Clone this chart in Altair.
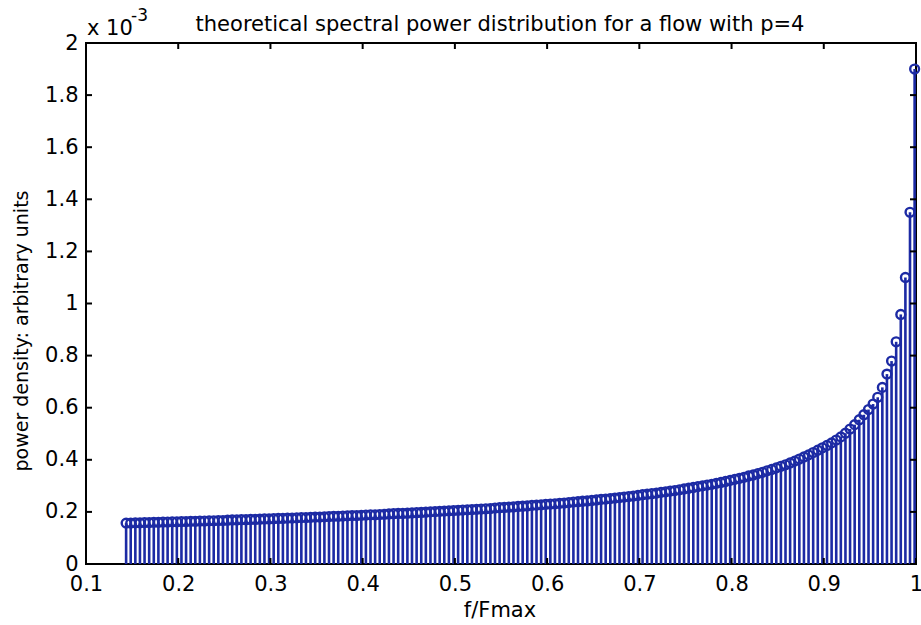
import altair as alt
import pandas as pd

# Spectral power density (units of 1e-3) for each frequency bin, f/Fmax grid
power = [
    0.157, 0.157, 0.158, 0.158, 0.159, 0.159, 0.160, 0.160, 0.161, 0.161,
    0.162, 0.162, 0.163, 0.163, 0.164, 0.164, 0.165, 0.165, 0.166, 0.166,
    0.167, 0.167, 0.168, 0.169, 0.169, 0.170, 0.170, 0.171, 0.171, 0.172,
    0.173, 0.173, 0.174, 0.175, 0.175, 0.176, 0.176, 0.177, 0.178, 0.178,
    0.179, 0.180, 0.180, 0.181, 0.182, 0.183, 0.183, 0.184, 0.185, 0.186,
    0.186, 0.187, 0.188, 0.189, 0.189, 0.190, 0.191, 0.192, 0.193, 0.194,
    0.194, 0.195, 0.196, 0.197, 0.198, 0.199, 0.200, 0.201, 0.202, 0.203,
    0.204, 0.205, 0.206, 0.207, 0.208, 0.209, 0.210, 0.211, 0.212, 0.213,
    0.215, 0.216, 0.217, 0.218, 0.219, 0.221, 0.222, 0.223, 0.225, 0.226,
    0.227, 0.229, 0.230, 0.231, 0.233, 0.234, 0.236, 0.238, 0.239, 0.241,
    0.242, 0.244, 0.246, 0.248, 0.249, 0.251, 0.253, 0.255, 0.257, 0.259,
    0.261, 0.263, 0.266, 0.268, 0.270, 0.272, 0.275, 0.277, 0.280, 0.282,
    0.285, 0.288, 0.291, 0.294, 0.297, 0.300, 0.303, 0.306, 0.310, 0.313,
    0.317, 0.321, 0.325, 0.329, 0.333, 0.338, 0.342, 0.347, 0.352, 0.358,
    0.363, 0.369, 0.375, 0.381, 0.388, 0.395, 0.403, 0.411, 0.419, 0.428,
    0.437, 0.446, 0.455, 0.465, 0.476, 0.488, 0.502, 0.518, 0.535, 0.554,
    0.573, 0.593, 0.614, 0.640, 0.678, 0.729, 0.779, 0.853, 0.958, 1.100,
    1.350, 1.900,
]
# uniform frequency bins starting at f/Fmax = 0.1435, spacing 0.005
freq = [round(0.1435 + 0.005 * k, 4) for k in range(len(power))]

x_ticks = [0.1, 0.2, 0.3, 0.4, 0.5, 0.6, 0.7, 0.8, 0.9, 1.0]
y_ticks = [0, 0.2, 0.4, 0.6, 0.8, 1.0, 1.2, 1.4, 1.6, 1.8, 2.0]

W, H = 830, 521
FONT = "DejaVu Sans"
STEM = "#1c2aa4"

df = pd.DataFrame({"f": freq, "p": power})
xs = alt.Scale(domain=[0.1, 1.0], nice=False, zero=False)
ys = alt.Scale(domain=[0, 2], nice=False)

common = dict(format="~g", title=None, grid=False, domain=False, ticks=False,
              labelFont=FONT, labelFontSize=21, labelColor="black",
              labelOverlap=False, labelBound=False, labelFlush=False)
x_axis = alt.Axis(values=x_ticks, labelPadding=9, **common)
y_axis = alt.Axis(values=y_ticks, labelPadding=8, **common)

base = alt.Chart(df)
stems = base.mark_rule(color=STEM, strokeWidth=2.6).encode(
    x=alt.X("f:Q", scale=xs, axis=x_axis),
    y=alt.Y("p:Q", scale=ys, axis=y_axis),
    y2=alt.datum(0),
)
heads = base.mark_point(shape="circle", filled=False, size=78, strokeWidth=2.4,
                        color=STEM, opacity=1).encode(
    x=alt.X("f:Q", scale=xs),
    y=alt.Y("p:Q", scale=ys),
)

# inward tick marks on all four sides of the box
xt = alt.Chart(pd.DataFrame({"t": x_ticks}))
yt = alt.Chart(pd.DataFrame({"t": y_ticks}))
tick_style = dict(color="black", strokeWidth=2)
xt_bottom = xt.mark_rule(**tick_style).encode(
    x=alt.X("t:Q", scale=xs), y=alt.value(H), y2=alt.value(H - 6))
xt_top = xt.mark_rule(**tick_style).encode(
    x=alt.X("t:Q", scale=xs), y=alt.value(0), y2=alt.value(6))
yt_left = yt.mark_rule(**tick_style).encode(
    y=alt.Y("t:Q", scale=ys), x=alt.value(0), x2=alt.value(6))
yt_right = yt.mark_rule(**tick_style).encode(
    y=alt.Y("t:Q", scale=ys), x=alt.value(W), x2=alt.value(W - 6))

def label(text, x, y, size=21, align="center", baseline="alphabetic", angle=0):
    return alt.Chart(pd.DataFrame({"s": [text]})).mark_text(
        font=FONT, fontSize=size, color="black", align=align,
        baseline=baseline, angle=angle,
    ).encode(text="s:N", x=alt.value(x), y=alt.value(y))

title = label("theoretical spectral power distribution for a flow with p=4", 414, -12)
exp_base = label("x 10", 1, -8, align="left")
exp_pow = label("-3", 45, -22, size=17, align="left")
x_title = label("f/Fmax", 414, H + 53)
y_title = label("power density: arbitrary units", -64, 288, size=19,
                baseline="middle", angle=270)

chart = alt.layer(
    stems, heads, xt_bottom, xt_top, yt_left, yt_right,
    title, exp_base, exp_pow, x_title, y_title,
).properties(
    width=W, height=H,
    autosize=alt.AutoSizeParams(type="none"),
    padding={"left": 86, "top": 43, "right": 5, "bottom": 61},
    background="white",
).configure_view(stroke="black", strokeWidth=2)

chart.save("out.html", embed_options={"renderer": "svg", "actions": False})
